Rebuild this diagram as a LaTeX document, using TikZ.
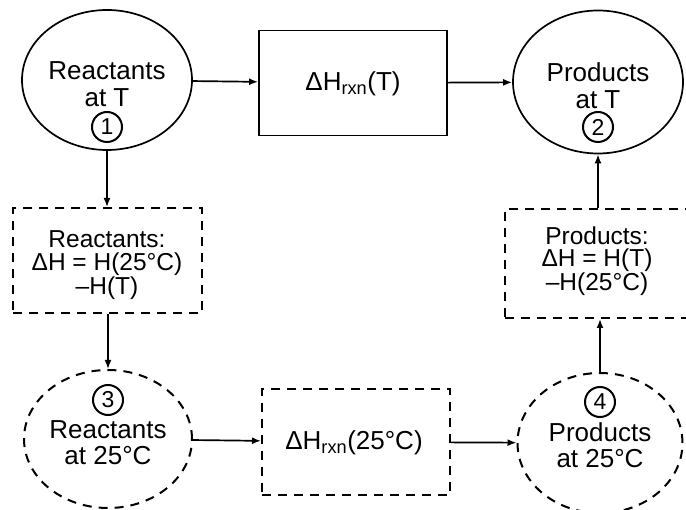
\documentclass[tikz,border=0pt]{standalone}
\usepackage{fontspec}
\setmainfont{Liberation Sans}
\usetikzlibrary{shapes.geometric,arrows.meta}
\tikzset{
  ln/.style={line width=1.7pt},
  dsh/.style={line width=2pt, dash pattern=on 9pt off 7pt},
  ell/.style={ellipse, minimum width=170pt, minimum height=140pt, inner sep=0pt},
  txt/.style={align=center, font=\fontsize{26}{27}\selectfont, inner sep=0pt},
  btxt/.style={align=center, font=\fontsize{24.5}{22.5}\selectfont, inner sep=0pt},
  cnum/.style={circle, draw, line width=2pt, minimum size=30pt, inner sep=0pt, font=\fontsize{23}{23}\selectfont},
  arr/.style={ln, -{Latex[length=9pt,width=7pt]}}
}
\begin{document}
\begin{tikzpicture}[x=1pt,y=-1pt]
\useasboundingbox (0,0) rectangle (686,510);
\clip (0,0) rectangle (686,510);
% top row
\node[ell, ln, draw] (r1) at (107,80) {};
\node[txt] (t1) at (107,84) {Reactants\\at T};
\node[cnum] (n1) at (107,127) {1};
\node[draw, ln, minimum width=188pt, minimum height=105pt, inner sep=0pt] (b1) at (353,83) {};
\node[txt] (tb1) at (353,84) {ΔH\textsubscript{rxn}(T)};
\node[ell, ln, draw, minimum height=143pt] (p2) at (598,82) {};
\node[txt] (t2) at (598,86) {Products\\at T};
\node[cnum] (n2) at (598,127) {2};
% middle row
\node[draw, dsh, minimum width=189pt, minimum height=105pt, inner sep=0pt] (bl) at (107.5,260.5) {};
\node[btxt] (tl) at (107,265) {Reactants:\\ΔH = H(25°C)\\–H(T)};
\node[draw, dsh, minimum width=200pt, minimum height=109pt, inner sep=0pt] (br) at (605,263.5) {};
\node[btxt] (tr) at (597,261) {Products:\\ΔH = H(T)\\–H(25°C)};
% bottom row
\node[ell, dsh, draw, minimum width=168pt, minimum height=138pt] (r3) at (108,439) {};
\node[cnum] (n3) at (108,400) {3};
\node[txt, font=\fontsize{26}{26}\selectfont] (t3) at (108,443) {Reactants\\at 25°C};
\node[draw, dsh, minimum width=188pt, minimum height=106pt, inner sep=0pt] (b3) at (356,442) {};
\node[txt] (tb3) at (354,443) {ΔH\textsubscript{rxn}(25°C)};
\node[ell, dsh, draw, minimum width=165pt, minimum height=140pt] (p4) at (600,443) {};
\node[cnum] (n4) at (600,402) {4};
\node[txt, font=\fontsize{26}{26}\selectfont] (t4) at (600,445) {Products\\at 25°C};
% connectors
\draw[arr] (r1) -- (b1);
\draw[arr] (b1) -- (p2);
\draw[arr] (r1.south) -- (bl.north -| r1.south);
\draw[arr] (bl.south -| r3.north) -- (r3.north);
\draw[arr] (r3) -- (b3);
\draw[arr] (b3) -- (p4);
\draw[arr] (p4.north) -- (br.south -| p4.north);
\draw[arr] (br.north -| p2.south) -- (p2.south);
\end{tikzpicture}
\end{document}
